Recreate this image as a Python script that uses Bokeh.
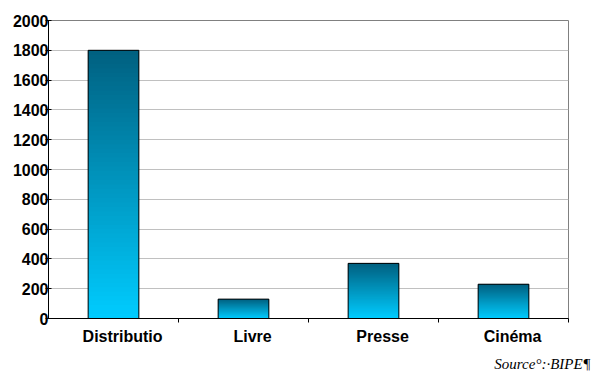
import numpy as np
from bokeh.plotting import figure
from bokeh.models import FixedTicker, Title, Range1d
from bokeh.embed import file_html
from bokeh.resources import INLINE

categories = ["Distributio", "Livre", "Presse", "Cinéma"]
values = [1800, 130, 370, 230]
y_ticks = [0, 200, 400, 600, 800, 1000, 1200, 1400, 1600, 1800, 2000]
source_text = "Source°:·BIPE¶"

TOP = np.array([0x00, 0x60, 0x80])
BOT = np.array([0x00, 0xCC, 0xFF])
N = 60
BAR_W = 0.39

p = figure(width=594, height=379, output_backend="svg", toolbar_location=None,
           x_range=Range1d(0, 4), y_range=Range1d(0, 2000),
           min_border_left=48, min_border_right=26, min_border_top=20, min_border_bottom=61)
p.background_fill_color = "white"
p.border_fill_color = "white"
p.outline_line_color = "#808080"
p.outline_line_width = 1

p.ygrid.ticker = FixedTicker(ticks=y_ticks)
p.ygrid.grid_line_color = "#c0c0c0"
p.ygrid.grid_line_width = 1
p.xgrid.grid_line_color = None

# gradient bars (stacked slices, each overlapping into the next to hide seams)
lefts, rights, bottoms, tops, colors = [], [], [], [], []
for i, v in enumerate(values):
    c = i + 0.5
    overlap = max(v / N, 15)
    for k in range(N):
        b = v * k / N
        t = min(v, v * (k + 1) / N + overlap) if k < N - 1 else v
        frac = (k + 0.5) / N  # 0 bottom -> 1 top
        rgb = BOT + (TOP - BOT) * frac
        lefts.append(c - BAR_W / 2)
        rights.append(c + BAR_W / 2)
        bottoms.append(b)
        tops.append(t)
        colors.append("#%02x%02x%02x" % tuple(int(round(x)) for x in rgb))

p.quad(left=lefts, right=rights, bottom=bottoms, top=tops,
       fill_color=colors, line_color=None)
p.quad(left=[i + 0.5 - BAR_W / 2 for i in range(len(values))],
       right=[i + 0.5 + BAR_W / 2 for i in range(len(values))],
       bottom=[0] * len(values), top=values,
       fill_alpha=0, line_color="black", line_width=1)

# y axis
ya = p.yaxis[0]
ya.ticker = FixedTicker(ticks=y_ticks)
ya.axis_line_color = "black"
ya.major_tick_in = 3
ya.major_tick_out = 3
ya.minor_tick_line_color = None
ya.major_label_standoff = -3
ya.major_label_text_font = "Liberation Sans"
ya.major_label_text_font_style = "bold"
ya.major_label_text_font_size = "16px"
ya.major_label_text_color = "black"

# x axis
label_pos = [i + 0.5 + 0.07 for i in range(len(categories))]
xa = p.xaxis[0]
xa.ticker = FixedTicker(ticks=label_pos, minor_ticks=[1, 2, 3, 4])
xa.major_label_overrides = {pos: cat for pos, cat in zip(label_pos, categories)}
xa.axis_line_color = "black"
xa.major_tick_in = 0
xa.major_tick_out = 0
xa.minor_tick_in = 0
xa.minor_tick_out = 4
xa.minor_tick_line_color = "black"
xa.major_label_standoff = 5
xa.major_label_text_font = "Liberation Sans"
xa.major_label_text_font_style = "bold"
xa.major_label_text_font_size = "16px"
xa.major_label_text_color = "black"

src = Title(text=source_text, align="right", offset=-22, standoff=13,
            text_font="Liberation Serif", text_font_style="italic",
            text_font_size="15px", text_color="black")
p.add_layout(src, "below")

open("out.html", "w").write(file_html(p, INLINE))
